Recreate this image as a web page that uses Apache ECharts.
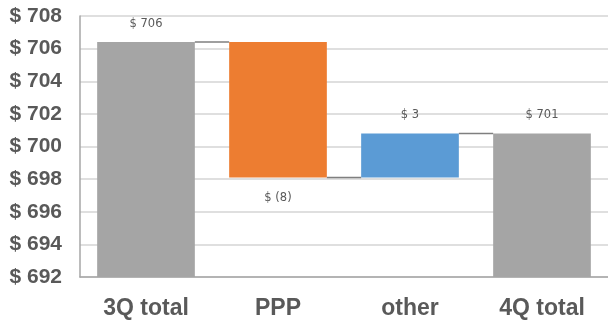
<!DOCTYPE html>
<html>
<head>
<meta charset="utf-8">
<script src="https://cdn.jsdelivr.net/npm/echarts@6/dist/echarts.min.js"></script>
<style>
  html, body { margin: 0; padding: 0; background: #fff; }
  #chart { width: 608px; height: 325px; }
</style>
</head>
<body>
<div id="chart"></div>
<script>
// waterfall data
const categories = ['3Q total', 'PPP', 'other', '4Q total']
const barTop = [706.4, 706.4, 700.8, 700.8]
const barBottom = [692, 698.1, 698.1, 692]
const barColors = ['#a5a5a5', '#ed7d31', '#5b9bd5', '#a5a5a5']
const barLabels = ['$ 706', '$ (8)', '$ 3', '$ 701']
const labelPos = ['top', 'bottom', 'top', 'top']
// level of the connector drawn between bar i and bar i+1
const connectLevels = [706.4, 698.1, 700.8]
const yTicks = { min: 692, max: 708, interval: 2 }

const barFrac = 0.74
const chart = echarts.init(document.getElementById('chart'))

chart.setOption({
  animation: false,
  grid: { left: 80, right: -3, top: 16, bottom: 48, containLabel: false },
  xAxis: {
    type: 'category',
    data: categories,
    axisTick: { show: false },
    axisLine: { lineStyle: { color: '#a6a6a6', width: 1.5 } },
    axisLabel: {
      margin: 20,
      color: '#595959',
      fontFamily: 'Liberation Sans',
      fontWeight: 'bold',
      fontSize: 23
    }
  },
  yAxis: {
    type: 'value',
    min: yTicks.min,
    max: yTicks.max,
    interval: yTicks.interval,
    axisLine: { show: true, lineStyle: { color: '#a6a6a6', width: 1.5 } },
    axisTick: { show: false },
    splitLine: { lineStyle: { color: '#d4d4d4', width: 1.5 } },
    axisLabel: {
      margin: 18,
      color: '#595959',
      fontFamily: 'Liberation Sans',
      fontWeight: 'bold',
      fontSize: 21,
      formatter: v => '$ ' + v
    }
  },
  series: [
    {
      type: 'bar',
      stack: 'wf',
      barWidth: barFrac * 100 + '%',
      itemStyle: { color: 'transparent' },
      silent: true,
      data: barBottom
    },
    {
      type: 'bar',
      stack: 'wf',
      barWidth: barFrac * 100 + '%',
      data: barTop.map((t, i) => ({
        value: +(t - barBottom[i]).toFixed(2),
        itemStyle: { color: barColors[i] },
        label: {
          show: true,
          position: labelPos[i],
          distance: labelPos[i] === 'top' ? 12 : 15,
          formatter: barLabels[i],
          color: '#595959',
          fontFamily: 'DejaVu Sans',
          fontSize: 11.5
        }
      }))
    },
    {
      type: 'custom',
      silent: true,
      z: 5,
      data: connectLevels.map((v, i) => [i, v]),
      renderItem(params, api) {
        const i = api.value(0)
        const p1 = api.coord([i, api.value(1)])
        const p2 = api.coord([i + 1, api.value(1)])
        const half = api.size([1, 0])[0] * barFrac / 2
        return {
          type: 'line',
          shape: { x1: p1[0] + half, y1: p1[1], x2: p2[0] - half, y2: p2[1] },
          style: { stroke: '#7f7f7f', lineWidth: 1.5 }
        }
      }
    }
  ]
})
</script>
</body>
</html>
